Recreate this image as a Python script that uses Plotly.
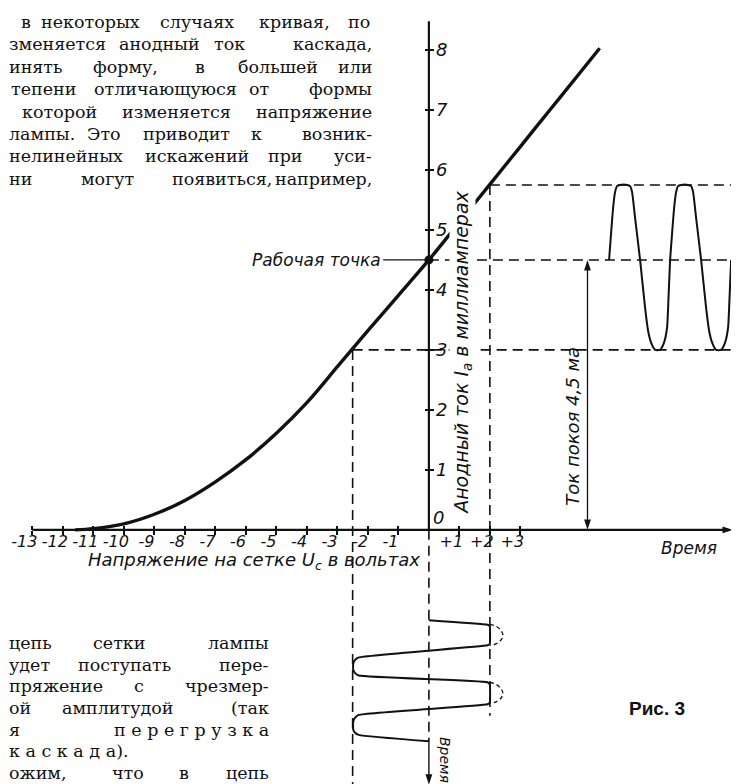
import plotly.graph_objects as go

W, H = 739, 784

# ---------------- data ----------------
# anode characteristic: grid voltage (V) -> anode current (mA)
grid_v = [-11.6, -11, -10, -9, -8, -7, -6, -5, -4, -3, -2.5, -2, -1, 0, 1, 2, 3, 4, 5, 5.6]
anode_ma = [0.0, 0.02, 0.1, 0.26, 0.49, 0.8, 1.17, 1.61, 2.12, 2.72, 3.02, 3.32, 3.91, 4.5, 5.13, 5.76, 6.39, 7.02, 7.65, 8.03]

work_v, work_ma = 0.0, 4.5      # working point
v_low, v_clip = -2.5, 2.0       # grid swing limits
i_low, i_high = 3.0, 5.75       # anode current limits
quiescent_v = 5.2               # position of "Ток покоя" arrow

# output (anode current) waveform: time in periods, current in mA
out_t = [0, 0.033, 0.066, 0.098, 0.131, 0.18, 0.295, 0.344, 0.377, 0.426, 0.508, 0.59, 0.639, 0.689,
         0.754, 0.836, 0.90, 0.95, 0.967, 1.0, 1.033, 1.066, 1.098, 1.131, 1.18, 1.295, 1.344, 1.377,
         1.426, 1.508, 1.59, 1.639, 1.689, 1.754, 1.836, 1.90, 1.95, 1.967, 2.0]
out_ma = [4.5, 4.95, 5.37, 5.63, 5.73, 5.75, 5.75, 5.73, 5.63, 5.2, 4.5, 3.7, 3.32, 3.12,
          3.0, 3.0, 3.12, 3.37, 3.7, 4.5, 4.95, 5.37, 5.63, 5.73, 5.75, 5.75, 5.73, 5.63,
          5.2, 4.5, 3.7, 3.32, 3.12, 3.0, 3.0, 3.12, 3.37, 3.7, 4.5]

# input (grid voltage) waveform: voltage in V, time in periods (downwards)
in_v = [0, 1.92, 1.98, 2.0, 2.0, 1.98, 1.92, -2.3, -2.42, -2.48, -2.48, -2.42, -2.3,
        1.92, 1.98, 2.0, 2.0, 1.98, 1.92, -2.3, -2.42, -2.48, -2.48, -2.42, -2.3, 0]
in_t = [0, 0.075, 0.09, 0.115, 0.38, 0.40, 0.415, 0.615, 0.655, 0.71, 0.82, 0.876, 0.914,
        1.025, 1.05, 1.07, 1.35, 1.37, 1.39, 1.565, 1.61, 1.675, 1.81, 1.86, 1.895, 2.0]
# unclipped tips (dashed)
tip1_v = [2.0, 2.2, 2.36, 2.43, 2.36, 2.2, 2.0]
tip1_t = [0.07, 0.1, 0.17, 0.25, 0.33, 0.39, 0.415]
tip2_v = [2.0, 2.2, 2.36, 2.43, 2.36, 2.2, 2.0]
tip2_t = [1.03, 1.06, 1.13, 1.21, 1.29, 1.35, 1.38]

xtick_vals = [-13, -12, -11, -10, -9, -8, -7, -6, -5, -4, -3, -2, -1, 1, 2, 3]
xtick_text = ["-13", "-12", "-11", "-10", "-9", "-8", "-7", "-6", "-5", "-4", "-3", "-2", "-1", "+1", "+2", "+3"]
ytick_vals = [0, 1, 2, 3, 4, 5, 6, 7, 8]
ylabel_vals = [1, 2, 3, 4, 5, 6, 7, 8]
ylabel_text = ["1", "2", "3", "4", "5", "6", "7", "8"]

# body text around the figure: line y (px), words with left/right extent (px)
top_lines = [
    (14, [("в", 12, 20), ("некоторых", 32, 133), ("случаях", 147, 230), ("кривая,", 242, 330), ("по", 342, 363)]),
    (36, [("зменяется", 0, 97), ("анодный", 110, 193), ("ток", 203, 240), ("каскада,", 250, 365)]),
    (59, [("инять", 0, 53), ("форму,", 82, 153), ("в", 187, 197), ("большей", 222, 318), ("или", 333, 365)]),
    (81, [("тепени", 2, 75), ("отличающуюся", 85, 230), ("от", 240, 263), ("формы", 273, 365)]),
    (104, [("которой", 13, 97), ("изменяется", 107, 230), ("напряжение", 240, 365)]),
    (126, [("лампы.", 0, 67), ("Это", 78, 113), ("приводит", 127, 230), ("к", 243, 253), ("возник-", 273, 365)]),
    (148, [("нелинейных", 0, 117), ("искажений", 133, 245), ("при", 257, 297), ("уси-", 317, 365)]),
    (171, [("ни", 0, 27), ("могут", 67, 133), ("появиться,", 160, 267), ("например,", 293, 365)]),
]
bottom_lines = [
    (635, [("цепь", 0, 37), ("сетки", 84, 137), ("лампы", 202, 262)]),
    (657, [("удет", 0, 47), ("поступать", 63, 169), ("пере-", 182, 262)]),
    (678, [("пряжение", 0, 113), ("с", 126, 136), ("чрезмер-", 146, 262)]),
    (700, [("ой", 0, 27), ("амплитудой", 43, 177), ("(так", 209, 262)]),
    (722, [("я", 0, 11), ("п е р е г р у з к а", 64, 262)]),
    (743, [("к а с к а д а).", 0, 133)]),
    (765, [("ожим,", 0, 67), ("что", 97, 142), ("в", 169, 182), ("цепь", 209, 262)]),
]

# ---------------- layout geometry ----------------
X_RANGE = [-13.80, 10.43]
Y_RANGE = [-4.37, 8.70]
T_OUT_RANGE = [-9.85, 2.26]
T_IN_RANGE = [2.84, -10.12]

pos_x_axis = (0 - Y_RANGE[0]) / (Y_RANGE[1] - Y_RANGE[0])
pos_y_axis = (0 - X_RANGE[0]) / (X_RANGE[1] - X_RANGE[0])

INK = "#111111"
DASH = "10px,6px"
LBL_FONT = "DejaVu Sans"
BODY_FONT = "DejaVu Serif"

fig = go.Figure()


def add_line(x, y, dash=None, width=1.6, xaxis="x", yaxis="y", shape="linear", smoothing=1.0):
    fig.add_trace(go.Scatter(
        x=x, y=y, mode="lines", xaxis=xaxis, yaxis=yaxis,
        line=dict(color=INK, width=width, dash=dash, shape=shape, smoothing=smoothing),
        hoverinfo="skip", showlegend=False))


def add_arrowheads(x, y, angles, size=11):
    fig.add_trace(go.Scatter(
        x=x, y=y, mode="markers", hoverinfo="skip", showlegend=False,
        marker=dict(symbol="arrow", size=size, angle=angles, color=INK, line=dict(width=0))))


# guide lines
add_line([v_clip, X_RANGE[1] + 1], [i_high, i_high], dash=DASH)
add_line([work_v, X_RANGE[1] + 1], [work_ma, work_ma], dash=DASH)
add_line([v_low, X_RANGE[1] + 1], [i_low, i_low], dash=DASH)
add_line([v_low, v_low], [i_low, Y_RANGE[0] - 1], dash=DASH)
add_line([v_clip, v_clip], [i_high, -3.1], dash=DASH)
add_line([0, 0], [0, -3.55], dash=DASH)
add_line([-1.5, 0], [work_ma, work_ma], width=1.3)

# axes lines (voltage axis with arrow, current axis, downward time axis)
add_line([-13, 9.8], [0, 0], width=2.2)
add_line([0, 0], [0, 8.48], width=2.2)
add_line([0, 0], [-3.55, -4.1], width=1.4)
# quiescent current double arrow
add_line([quiescent_v, quiescent_v], [0.15, work_ma - 0.15], width=1.3)
add_arrowheads([9.97, 0, quiescent_v, quiescent_v], [0, -4.25, work_ma, 0], [90, 180, 0, 180])

# characteristic
add_line(grid_v, anode_ma, width=3.4, shape="spline", smoothing=1.0)
fig.add_trace(go.Scatter(x=[work_v], y=[work_ma], mode="markers",
                         marker=dict(color=INK, size=9), hoverinfo="skip", showlegend=False))

# output waveform
add_line(out_t, out_ma, width=2.0, xaxis="x2", shape="spline", smoothing=0.5)
# input waveform
add_line(in_v, in_t, width=2.0, yaxis="y2", shape="spline", smoothing=0.5)
add_line(tip1_v, tip1_t, dash="4px,3px", width=1.3, yaxis="y2", shape="spline")
add_line(tip2_v, tip2_t, dash="4px,3px", width=1.3, yaxis="y2", shape="spline")

# dummy traces for tick-overlay axes
fig.add_trace(go.Scatter(x=[None], y=[None], xaxis="x3", yaxis="y3", showlegend=False, hoverinfo="skip"))
fig.add_trace(go.Scatter(x=[None], y=[None], xaxis="x4", yaxis="y4", showlegend=False, hoverinfo="skip"))

common = dict(showline=False, showgrid=False, zeroline=False)
xt_marks = dict(range=X_RANGE, overlaying="x", anchor="free", position=pos_x_axis,
                tickmode="array", tickvals=xtick_vals, ticklen=4, tickwidth=1.6,
                tickcolor=INK, showticklabels=False, **common)
yt_marks = dict(range=Y_RANGE, overlaying="y", anchor="free", position=pos_y_axis, side="right",
                tickmode="array", tickvals=ytick_vals, ticklen=4, tickwidth=1.6,
                tickcolor=INK, showticklabels=False, **common)

fig.update_layout(
    width=W, height=H, autosize=False,
    margin=dict(l=0, r=0, t=0, b=0),
    paper_bgcolor="white", plot_bgcolor="white",
    xaxis=dict(range=X_RANGE, domain=[0, 1], anchor="free", position=pos_x_axis,
               tickmode="array", tickvals=xtick_vals, ticktext=xtick_text, ticks="",
               ticklabelshift=-8,
               tickfont=dict(family=LBL_FONT, size=16, color=INK, style="italic"), **common),
    xaxis3=dict(ticks="outside", **xt_marks),
    xaxis4=dict(ticks="inside", **xt_marks),
    yaxis=dict(range=Y_RANGE, domain=[0, 1], anchor="free", position=pos_y_axis, side="right",
               tickmode="array", tickvals=ylabel_vals, ticktext=ylabel_text, ticks="",
               ticklabelstandoff=6,
               tickfont=dict(family=LBL_FONT, size=18, color=INK, style="italic"), **common),
    yaxis3=dict(ticks="outside", **yt_marks),
    yaxis4=dict(ticks="inside", **yt_marks),
    xaxis2=dict(range=T_OUT_RANGE, overlaying="x", visible=False),
    yaxis2=dict(range=T_IN_RANGE, overlaying="y", visible=False),
)

ann = []


def label(text, x, y, size=16, angle=0, xanchor="center", bg=None, xref="x", yref="y"):
    d = dict(text=text, x=x, y=y, xref=xref, yref=yref, showarrow=False, textangle=angle,
             xanchor=xanchor, yanchor="middle", borderpad=0,
             font=dict(family=LBL_FONT, size=size, color=INK, style="italic"))
    if bg:
        d["bgcolor"] = bg
    ann.append(d)


label("Анодный ток <i>I</i><sub>a</sub> в миллиамперах", 1.115, 2.95, size=19, angle=-90, bg="white")
label("Рабочая точка", -1.55, work_ma, size=17, xanchor="right")
label("Ток покоя 4,5 ма", 4.68, 1.73, size=18, angle=-90)
label("Время", 8.52, -0.3, size=17)
label("Напряжение на сетке <i>U</i><sub>c</sub> в вольтах", -5.73, -0.52, size=18)
label("Время", 0.55, -3.83, size=14, angle=90)
label("0", 0.33, 0.2, size=18)

for y, words in top_lines + bottom_lines:
    n = len(words)
    for k, (w, xl, xr) in enumerate(words):
        if k == 0:
            xa, xp = "left", xl
        elif k == n - 1:
            xa, xp = "right", xr
        else:
            xa, xp = "center", (xl + xr) / 2
        ann.append(dict(text=w, x=xp / W, y=1 - y / H, xref="paper", yref="paper", showarrow=False,
                        xanchor=xa, yanchor="middle", borderpad=0,
                        font=dict(family=BODY_FONT, size=17.5, color=INK)))

ann.append(dict(text="<b>Рис. 3</b>", x=649 / W, y=1 - 700 / H, xref="paper", yref="paper",
                showarrow=False, xanchor="center", yanchor="middle",
                font=dict(family="Liberation Sans", size=19, color=INK)))

fig.update_layout(annotations=ann)
fig.write_html("out.html")
